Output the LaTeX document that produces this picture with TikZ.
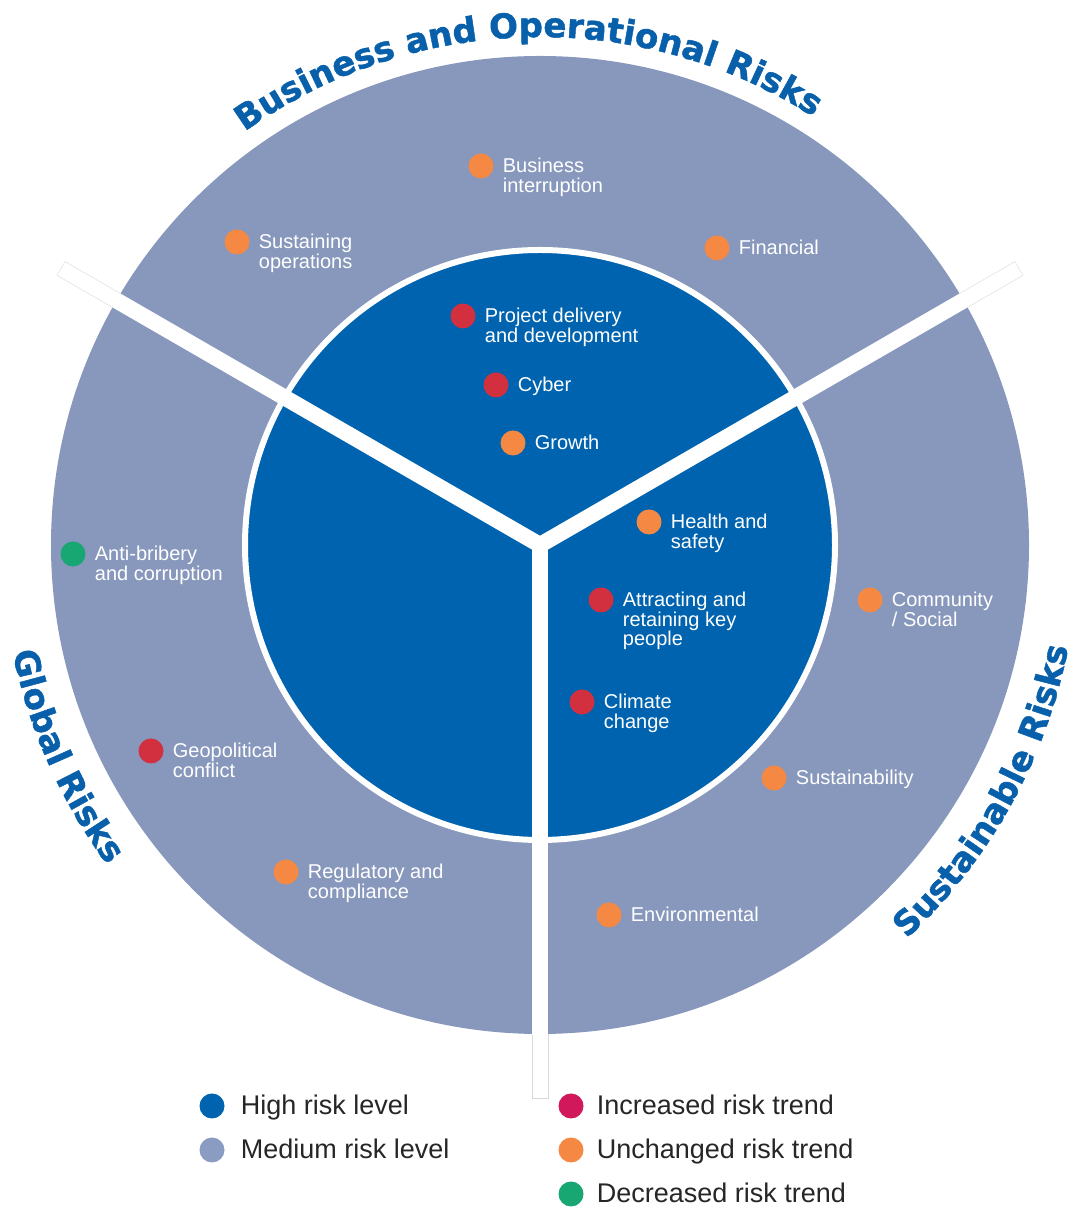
\documentclass[tikz,border=0pt]{standalone}
\usepackage{fontspec}
\setmainfont{Liberation Sans}
\newfontfamily\titlefam{DejaVu Sans}[BoldFeatures={FakeBold=1.4}]
\usetikzlibrary{positioning}
\usetikzlibrary{decorations.text}

\definecolor{highblue}{RGB}{0,99,175}
\definecolor{medblue}{RGB}{135,152,188}
\definecolor{titleblue}{RGB}{8,96,171}
\definecolor{trendred}{RGB}{211,48,63}
\definecolor{trendorange}{RGB}{245,136,66}
\definecolor{trendgreen}{RGB}{24,166,115}
\definecolor{legendred}{RGB}{209,24,90}
\definecolor{legendgrey}{RGB}{138,156,194}

\tikzset{
    riskdot/.style={circle, minimum size=25pt, inner sep=0pt},
    risklabel/.style={anchor=base west, yshift=-7pt, inner sep=0pt, align=left,
        text=white, font=\fontsize{20}{19.5}\selectfont},
    two lines/.style={yshift=-19.5pt},
    three lines/.style={yshift=-39pt},
    keytext/.style={anchor=base west, yshift=-9pt, inner sep=0pt,
        text=black!85, font=\fontsize{27}{27}\selectfont},
    sector title/.style={decorate, decoration={text along path, text align=center,
        text={|\titlefam\bfseries\fontsize{34}{34}\selectfont\color{titleblue}|#1}}}
}

\begin{document}
\begin{tikzpicture}[x=1pt, y=1pt]
    \useasboundingbox (0,0) rectangle (1075,1210);
    \coordinate (c) at (540,665);

    \draw[black!15, fill=white, rotate around={150:(c)}] (540,657) rectangle (1093,673);
    \draw[black!15, fill=white, rotate around={30:(c)}] (540,657) rectangle (1093,673);
    \draw[black!15, fill=white, rotate around={270:(c)}] (540,657) rectangle (1093,673);

    \fill[medblue] (c) circle (489);
    \filldraw[fill=highblue, draw=white, line width=6pt] (c) circle (295);

    \fill[white, rotate around={150:(c)}] (540,657) rectangle (1030,673);
    \fill[white, rotate around={30:(c)}] (540,657) rectangle (1030,673);
    \fill[white, rotate around={270:(c)}] (540,657) rectangle (1030,673);
    \fill[white] (c) circle (8);

    \path[sector title={Business and Operational Risks}]
        ([shift={(128:508)}]c) arc[start angle=128, end angle=55, radius=508];
    \path[sector title={Global Risks}]
        ([shift={(174:538)}]c) arc[start angle=174, end angle=234, radius=538];
    \path[sector title={Sustainable Risks}]
        ([shift={(-60:538)}]c) arc[start angle=-60, end angle=2, radius=538];

    \node[riskdot, fill=trendorange] (bizdot) at (481,1044) {};
    \node[right=9pt of bizdot, risklabel, two lines] (biz) {Business\\interruption};
    \node[riskdot, fill=trendorange] (susdot) at (237,968) {};
    \node[right=9pt of susdot, risklabel, two lines] (sus) {Sustaining\\operations};
    \node[riskdot, fill=trendorange] (findot) at (717,962) {};
    \node[right=9pt of findot, risklabel] (fin) {Financial};

    \node[riskdot, fill=trendred] (projdot) at (463,894) {};
    \node[right=9pt of projdot, risklabel, two lines] (proj) {Project delivery\\and development};
    \node[riskdot, fill=trendred] (cybdot) at (496,825) {};
    \node[right=9pt of cybdot, risklabel] (cyb) {Cyber};
    \node[riskdot, fill=trendorange] (growdot) at (513,767) {};
    \node[right=9pt of growdot, risklabel] (grow) {Growth};

    \node[riskdot, fill=trendorange] (healthdot) at (649,688) {};
    \node[right=9pt of healthdot, risklabel, two lines] (health) {Health and\\safety};
    \node[riskdot, fill=trendred] (attrdot) at (601,610) {};
    \node[right=9pt of attrdot, risklabel, three lines] (attr) {Attracting and\\retaining key\\people};
    \node[riskdot, fill=trendred] (climdot) at (582,508) {};
    \node[right=9pt of climdot, risklabel, two lines] (clim) {Climate\\change};

    \node[riskdot, fill=trendorange] (commdot) at (870,610) {};
    \node[right=9pt of commdot, risklabel, two lines] (comm) {Community\\/ Social};
    \node[riskdot, fill=trendorange] (sustdot) at (774,432) {};
    \node[right=9pt of sustdot, risklabel] (sust) {Sustainability};
    \node[riskdot, fill=trendorange] (envdot) at (609,295) {};
    \node[right=9pt of envdot, risklabel] (env) {Environmental};

    \node[riskdot, fill=trendgreen] (antidot) at (73,656) {};
    \node[right=9pt of antidot, risklabel, two lines] (anti) {Anti-bribery\\and corruption};
    \node[riskdot, fill=trendred] (geodot) at (151,459) {};
    \node[right=9pt of geodot, risklabel, two lines] (geo) {Geopolitical\\conflict};
    \node[riskdot, fill=trendorange] (regdot) at (286,338) {};
    \node[right=9pt of regdot, risklabel, two lines] (reg) {Regulatory and\\compliance};

    \node[riskdot, fill=highblue] (highdot) at (212,104) {};
    \node[right=16pt of highdot, keytext] (high) {High risk level};
    \node[riskdot, fill=legendgrey] (meddot) at (212,60) {};
    \node[right=16pt of meddot, keytext] (med) {Medium risk level};
    \node[riskdot, fill=legendred] (incdot) at (571,104) {};
    \node[right=13pt of incdot, keytext] (inc) {Increased risk trend};
    \node[riskdot, fill=trendorange] (unchdot) at (571,60) {};
    \node[right=13pt of unchdot, keytext] (unch) {Unchanged risk trend};
    \node[riskdot, fill=trendgreen] (decdot) at (571,16) {};
    \node[right=13pt of decdot, keytext] (dec) {Decreased risk trend};
\end{tikzpicture}
\end{document}
